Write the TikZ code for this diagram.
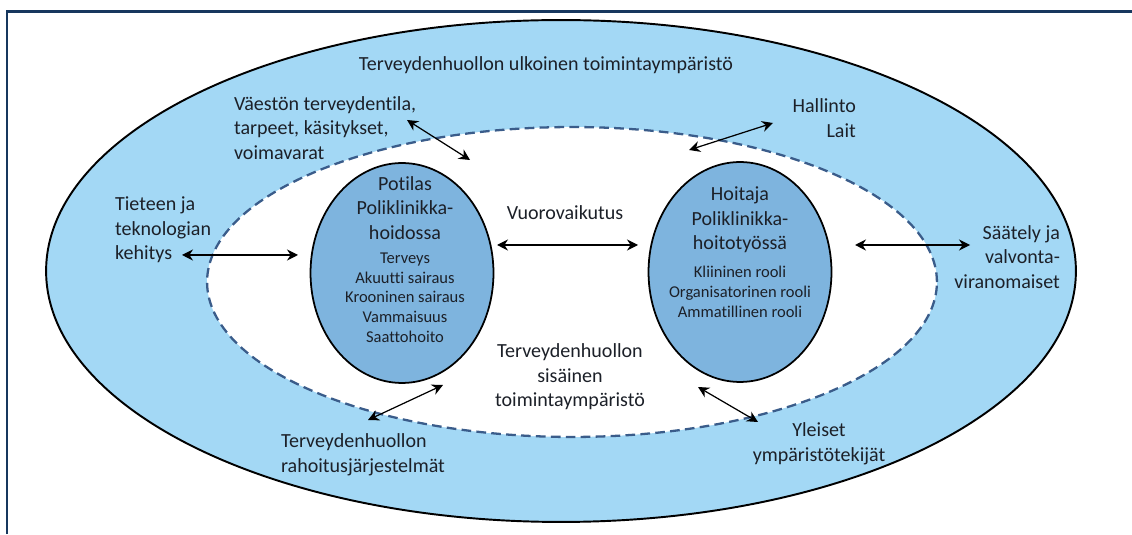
\documentclass[tikz,border=0pt]{standalone}
\usepackage{fontspec}
\setmainfont{Carlito}[Ligatures=NoCommon]
\usetikzlibrary{arrows.meta,positioning,shapes.geometric}
\definecolor{kehys}{RGB}{23,55,94}
\definecolor{ulkosini}{RGB}{163,216,245}
\definecolor{sisasini}{RGB}{126,180,222}
\definecolor{katko}{RGB}{58,92,138}
\definecolor{teksti}{RGB}{28,32,40}

\begin{document}
\begin{tikzpicture}[
    x=0.02cm,
    y=0.02cm,
    >={Stealth[length=2.2mm,width=2.2mm]},
    outer/.style={draw=black, ellipse, fill=ulkosini, line width=1.1pt, inner sep=0pt, minimum width=20.6cm, minimum height=10.04cm},
    inner/.style={draw=katko, ellipse, fill=white, dashed, dash pattern=on 5.5pt off 3pt, line width=1.3pt, inner sep=0pt, minimum width=14.6cm, minimum height=6.2cm},
    actor/.style={draw=black, ellipse, fill=sisasini, line width=1pt, inner sep=0pt, minimum width=3.66cm, minimum height=4.4cm},
    lbl/.style={text=teksti, inner sep=1pt, font=\fontsize{11.4}{14}\selectfont},
    small/.style={text=teksti, inner sep=1pt, align=center, font=\fontsize{9.4}{11.2}\selectfont},
    line/.style={<->, line width=0.7pt, black}
]
\useasboundingbox (0,0) rectangle (1132,534);
\draw[kehys, line width=1.2pt] (7,0) -- (7,522.5) -- (1132,522.5);

\node[outer] (ulko) at (561,263) {};
\node[inner] (sisa) at (572,252) {};
\node[actor] (potilas) at (402,261) {};
\node[actor] (hoitaja) at (740,262) {};

\node[lbl] (ulkoteksti) at (546,469) {Terveydenhuollon ulkoinen toimintaympäristö};
\node[lbl, anchor=west, align=left] (vaesto) at (232,406) {Väestön terveydentila,\\tarpeet, käsitykset,\\voimavarat};
\node[lbl, anchor=east, align=right] (hallinto) at (858,416) {Hallinto\\Lait};
\node[lbl, anchor=west, align=left] (tiede) at (113,304) {Tieteen ja\\teknologian\\kehitys};
\node[lbl, anchor=east, align=right] (saately) at (1062,277) {Säätely ja\\valvonta-\\viranomaiset};
\node[lbl] (vuoro) at (565,321) {Vuorovaikutus};
\node[lbl, align=center] (sisateksti) at (570,157) {Terveydenhuollon\\sisäinen\\toimintaympäristö};
\node[lbl, anchor=west, align=left] (rahoitus) at (279,79) {Terveydenhuollon\\rahoitusjärjestelmät};
\node[lbl, align=center] (yleiset) at (819,90) {Yleiset\\ympäristötekijät};

\node[lbl, align=center] (pottitle) at (405,326) {Potilas\\Poliklinikka-\\hoidossa};
\node[small] (potlist) at (405,236.5) {Terveys\\Akuutti sairaus\\Krooninen sairaus\\Vammaisuus\\Saattohoito};
\node[lbl, align=center] (hoititle) at (740,314) {Hoitaja\\Poliklinikka-\\hoitotyössä};
\node[small] (hoilist) at (740,242) {Kliininen rooli\\Organisatorinen rooli\\Ammatillinen rooli};

\coordinate (vaesto-a) at (407,414);
\coordinate (vaesto-b) at (470,374);
\coordinate (hallinto-a) at (689,384);
\coordinate (hallinto-b) at (773,411);
\coordinate (tiede-a) at (182,279);
\coordinate (tiede-b) at (298,279);
\coordinate (saately-a) at (855,289);
\coordinate (saately-b) at (970,289);
\coordinate (vuoro-a) at (497,289);
\coordinate (vuoro-b) at (638,289);
\coordinate (rahoitus-a) at (368,114);
\coordinate (rahoitus-b) at (443,149);
\coordinate (yleiset-a) at (698,147);
\coordinate (yleiset-b) at (758,112);

\draw[line] (vaesto-a) -- (vaesto-b);
\draw[line] (hallinto-a) -- (hallinto-b);
\draw[line] (tiede-a) -- (tiede-b);
\draw[line] (saately-a) -- (saately-b);
\draw[line] (vuoro-a) -- (vuoro-b);
\draw[line] (rahoitus-a) -- (rahoitus-b);
\draw[line] (yleiset-a) -- (yleiset-b);
\end{tikzpicture}
\end{document}
